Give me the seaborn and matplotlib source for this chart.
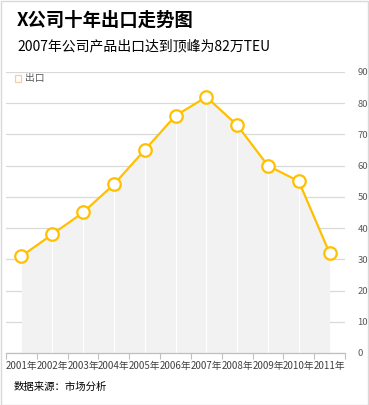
import matplotlib
matplotlib.use('Agg')
import matplotlib.pyplot as plt
import seaborn as sns
import pandas as pd
import numpy as np
from matplotlib.patches import Rectangle

years = ['2001年', '2002年', '2003年', '2004年', '2005年', '2006年',
         '2007年', '2008年', '2009年', '2010年', '2011年']
exports = [31, 38, 45, 54, 65, 76, 82, 73, 60, 55, 32]
y_ticks = [0, 10, 20, 30, 40, 50, 60, 70, 80, 90]

title = 'X公司十年出口走势图'
subtitle = '2007年公司产品出口达到顶峰为82万TEU'
source = '数据来源：市场分析'
series_name = '出口'

gold = '#FFC000'

sns.set_style('white')
plt.rcParams['font.family'] = ['Noto Sans CJK SC', 'DejaVu Sans']

df = pd.DataFrame({'year': years, 'value': exports})
df['x'] = np.arange(len(df))

fig = plt.figure(figsize=(3.69, 4.05), dpi=100)
ax = fig.add_axes([6 / 369, 1 - 353 / 405, 339 / 369, 281 / 405])

# grid behind everything
for t in y_ticks:
    ax.axhline(t, color='#d9d9d9', lw=0.9, zorder=0)

# shaded area under the line
ax.fill_between(df['x'], df['value'], 0, color='#f2f2f2', lw=0, zorder=1)
ax.vlines(df['x'][1:-1], 0, df['value'][1:-1], color='white', lw=0.9, zorder=2)

sns.lineplot(data=df, x='x', y='value', ax=ax, color=gold, lw=1.6,
             marker='o', markersize=9, markerfacecolor='white',
             markeredgecolor=gold, markeredgewidth=1.6, zorder=3)

ax.set_xlim(-0.5, len(df) - 0.5)
ax.set_ylim(0, 90)
ax.set_xlabel('')
ax.set_ylabel('')

ax.set_xticks(df['x'])
ax.set_xticklabels(years, fontsize=7, color='#404040')
ax.set_xticks(np.arange(-0.5, len(df)), minor=True)
ax.tick_params(axis='x', which='major', length=0, pad=6)
ax.tick_params(axis='x', which='minor', length=4, color='#bfbfbf', width=0.8, bottom=True)

ax.yaxis.tick_right()
ax.set_yticks(y_ticks)
ax.set_yticklabels([str(t) for t in y_ticks], fontsize=6.8, color='#595959')
ax.tick_params(axis='y', length=0, pad=9)

for s in ['top', 'left', 'right']:
    ax.spines[s].set_visible(False)
ax.spines['bottom'].set_color('#bfbfbf')
ax.spines['bottom'].set_linewidth(0.9)
ax.patch.set_alpha(0)

# titles
fig.text(17 / 369, 1 - 20 / 405, title, fontsize=13.2, fontweight='bold',
         va='center', ha='left', color='black')
fig.text(17 / 369, 1 - 46 / 405, subtitle, fontsize=10, va='center',
         ha='left', color='black')
fig.text(14 / 369, 1 - 387 / 405, source, fontsize=7.5, va='center',
         ha='left', color='black')

# legend
fig.patches.append(Rectangle((15 / 369, 1 - 82 / 405), 6 / 369, 7 / 405,
                             transform=fig.transFigure, fill=False,
                             edgecolor='#f8cba0', lw=0.9))
fig.text(25 / 369, 1 - 78 / 405, series_name, fontsize=7, va='center',
         ha='left', color='#595959')

# outer frame
fig.patches.append(Rectangle((0.5 / 369, 0.5 / 405), 367 / 369, 404 / 405,
                             transform=fig.transFigure, fill=False,
                             edgecolor='#d9d9d9', lw=1))

plt.savefig('out.png', dpi=100)
plt.close()
